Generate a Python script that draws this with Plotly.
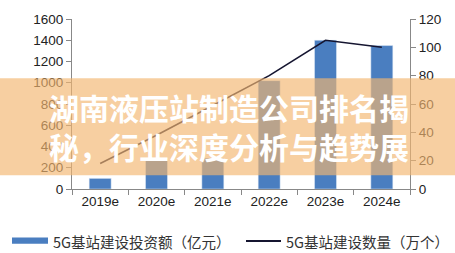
import plotly.graph_objects as go

categories = ["2019e", "2020e", "2021e", "2022e", "2023e", "2024e"]
invest = [100, 280, 290, 1020, 1400, 1350]      # 5G基站建设投资额（亿元）
count = [18, 38, 59, 80, 105, 100]              # 5G基站建设数量（万个）
left_ticks = [0, 200, 400, 600, 800, 1000, 1200, 1400, 1600]
right_ticks = [0, 20, 40, 60, 80, 100, 120]
name_bar = "5G基站建设投资额（亿元）"
name_line = "5G基站建设数量（万个）"
title_text = "湖南液压站制造公司排名揭<br>秘，行业深度分析与趋势展"

W, H = 455, 253
L, R, T, B = 72, 45, 17, 64
PW, PH = W - L - R, H - T - B

def px(x):
    return (x - L) / PW

def py(y):
    return (H - B - y) / PH

BLUE = "#4A7EC0"
TICKFONT = dict(family="Liberation Sans, Arial, sans-serif", size=13.5, color="#222222")

fig = go.Figure()
fig.add_trace(go.Bar(x=categories, y=invest, marker_color=BLUE, name=name_bar,
                     showlegend=False))
fig.add_trace(go.Scatter(x=categories, y=count, yaxis="y2", mode="lines",
                         line=dict(color="#151530", width=1.6), name=name_line,
                         showlegend=False))

fig.update_layout(
    width=W, height=H,
    margin=dict(l=L, r=R, t=T, b=B),
    paper_bgcolor="white", plot_bgcolor="white",
    bargap=0.61,
    xaxis=dict(showline=True, linecolor="#888888", linewidth=1,
               ticks="outside", tickson="boundaries", ticklen=5, tickcolor="#888888",
               tickfont=TICKFONT, showgrid=False),
    yaxis=dict(range=[0, 1600], tickvals=left_ticks, showline=True, linecolor="#888888",
               ticks="outside", ticklen=5, tickcolor="#888888", tickfont=TICKFONT,
               showgrid=False, zeroline=False),
    yaxis2=dict(range=[0, 120], tickvals=right_ticks, overlaying="y", side="right",
                showline=True, linecolor="#888888", ticks="outside", ticklen=5,
                tickcolor="#888888", tickfont=TICKFONT, showgrid=False, zeroline=False),
)

# legend (manual)
fig.add_shape(type="rect", xref="paper", yref="paper",
              x0=px(12), x1=px(48), y0=py(244.5), y1=py(238), fillcolor=BLUE,
              line=dict(width=0), layer="above")
fig.add_shape(type="line", xref="paper", yref="paper",
              x0=px(246), x1=px(281), y0=py(241.5), y1=py(241.5),
              line=dict(color="#151530", width=2), layer="above")
LEGFONT = dict(family="Noto Sans CJK SC", size=14.5, color="#333333")
fig.add_annotation(text=name_bar, xref="paper", yref="paper", x=px(51), y=py(242),
                   xanchor="left", yanchor="middle", showarrow=False, font=LEGFONT)
fig.add_annotation(text=name_line, xref="paper", yref="paper", x=px(284), y=py(242),
                   xanchor="left", yanchor="middle", showarrow=False, font=LEGFONT)

# overlay banner
fig.add_shape(type="rect", xref="paper", yref="paper",
              x0=px(-5), x1=px(W + 5), y0=py(175), y1=py(77),
              fillcolor="rgba(243,182,112,0.66)", line=dict(width=0), layer="above")
fig.add_annotation(text="<b>" + title_text + "</b>", xref="paper", yref="paper",
                   x=px(229), y=py(126), xanchor="center", yanchor="middle",
                   showarrow=False, align="left",
                   font=dict(family="Noto Sans CJK SC", size=30, color="white"))

fig.write_html("out.html")
